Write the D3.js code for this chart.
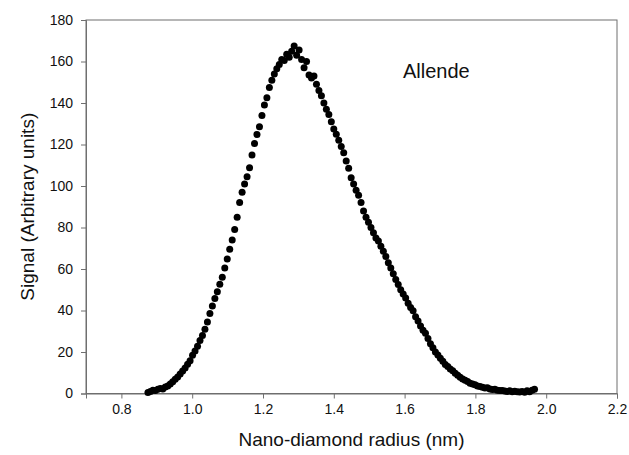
<!DOCTYPE html>
<html>
<head>
<meta charset="utf-8">
<script src="https://cdn.jsdelivr.net/npm/d3@7"></script>
<style>
  body { margin: 0; background: #fff; }
  text { font-family: "Liberation Sans", Arial, sans-serif; fill: #111; }
</style>
</head>
<body>
<svg width="629" height="455"></svg>
<script>
// radius (nm) of each sample
var radius = [
  0.875, 0.882, 0.889, 0.896, 0.903, 0.910, 0.917, 0.924, 0.931, 0.938,
  0.945, 0.952, 0.959, 0.966, 0.973, 0.980, 0.987, 0.994, 1.001, 1.008,
  1.015, 1.022, 1.029, 1.036, 1.043, 1.050, 1.057, 1.064, 1.071, 1.078,
  1.085, 1.092, 1.099, 1.106, 1.113, 1.120, 1.127, 1.134, 1.141, 1.148,
  1.155, 1.162, 1.169, 1.176, 1.183, 1.190, 1.197, 1.204, 1.211, 1.218,
  1.225, 1.232, 1.239, 1.246, 1.253, 1.260, 1.267, 1.274, 1.281, 1.288,
  1.295, 1.302, 1.309, 1.316, 1.323, 1.330, 1.337, 1.344, 1.351, 1.358,
  1.365, 1.372, 1.379, 1.386, 1.393, 1.400, 1.407, 1.414, 1.421, 1.428,
  1.435, 1.442, 1.449, 1.456, 1.463, 1.470, 1.477, 1.484, 1.491, 1.498,
  1.505, 1.512, 1.519, 1.526, 1.533, 1.540, 1.547, 1.554, 1.561, 1.568,
  1.575, 1.582, 1.589, 1.596, 1.603, 1.610, 1.617, 1.624, 1.631, 1.638,
  1.645, 1.652, 1.659, 1.666, 1.673, 1.680, 1.687, 1.694, 1.701, 1.708,
  1.715, 1.722, 1.729, 1.736, 1.743, 1.750, 1.757, 1.764, 1.771, 1.778,
  1.785, 1.792, 1.799, 1.806, 1.813, 1.820, 1.827, 1.834, 1.841, 1.848,
  1.855, 1.862, 1.869, 1.876, 1.883, 1.890, 1.897, 1.904, 1.911, 1.918,
  1.925, 1.932, 1.939, 1.946, 1.953, 1.960, 1.967
]

// signal (arbitrary units)
var signal = [
  0.5, 1.0, 1.6, 1.4, 2.0, 2.4, 2.2, 3.1, 3.6, 4.6,
  5.7, 6.9, 8.0, 9.4, 10.9, 12.3, 14.1, 15.8, 18.4, 20.5,
  22.8, 25.6, 28.0, 31.0, 34.5, 38.6, 42.2, 45.8, 49.0, 52.6,
  56.0, 60.5, 64.8, 69.5, 74.0, 79.0, 85.0, 92.0, 97.0, 101.0,
  104.5, 108.8, 115.0, 120.5, 124.8, 128.5, 134.0, 139.0, 142.5, 147.5,
  151.0, 154.0, 156.5, 158.5, 161.0, 160.5, 163.5, 162.0, 165.0, 167.5,
  163.0, 165.5, 161.0, 157.0, 160.0, 153.5, 152.0, 153.0, 149.0, 146.0,
  143.5, 140.0, 137.0, 134.5, 131.0, 127.5, 125.0, 122.0, 119.0, 116.0,
  112.0, 108.5, 104.0, 101.0, 98.0, 95.5, 92.0, 88.0, 85.0, 82.5,
  80.0, 77.5, 75.0, 73.5, 71.0, 68.5, 66.0, 63.0, 60.5, 57.7,
  55.0, 52.5, 50.0, 48.0, 46.0, 43.5, 41.5, 39.9, 37.0, 35.0,
  32.5, 30.5, 29.0, 26.5, 24.0, 22.0, 20.0, 18.5, 17.0, 15.5,
  14.0, 13.0, 11.8, 11.0, 9.8, 8.8, 7.8, 7.0, 6.4, 5.8,
  5.0, 4.6, 4.2, 3.6, 3.4, 3.0, 2.6, 2.8, 2.2, 1.9,
  2.1, 1.6, 1.4, 1.5, 1.2, 1.0, 1.3, 0.8, 1.1, 0.9,
  0.7, 1.0, 0.6, 1.3, 0.9, 1.6, 2.0
]

var x_ticks = [0.8, 1.0, 1.2, 1.4, 1.6, 1.8, 2.0, 2.2]
var y_ticks = [0, 20, 40, 60, 80, 100, 120, 140, 160, 180]

var margin = { left: 86, right: 12, top: 20, bottom: 62 }
var width = 629, height = 455
var axis_color = '#6f6f6f'

var svg = d3.select('svg')

var x = d3.scaleLinear().domain([0.7, 2.2]).range([margin.left, width - margin.right])
var y = d3.scaleLinear().domain([0, 180]).range([height - margin.bottom + 0.5, margin.top])

// frame
svg.append('rect')
  .attr('x', x(0.7)).attr('y', y(180))
  .attr('width', x(2.2) - x(0.7)).attr('height', y(0) - y(180))
  .attr('fill', 'none').attr('stroke', axis_color).attr('stroke-width', 1)

var x_axis = svg.append('g')
  .attr('transform', 'translate(0,' + y(0) + ')')
  .call(d3.axisBottom(x).tickValues(x_ticks).tickFormat(d3.format('.1f')).tickSizeOuter(0).tickSize(5).tickPadding(6))

var y_axis = svg.append('g')
  .attr('transform', 'translate(' + x(0.7) + ',0)')
  .call(d3.axisLeft(y).tickValues(y_ticks).tickSizeOuter(0).tickSize(5).tickPadding(8))

;[x_axis, y_axis].forEach((g) => {
  g.select('.domain').attr('stroke', axis_color)
  g.selectAll('.tick line').attr('stroke', axis_color)
  g.selectAll('.tick text').attr('font-size', 14).attr('fill', '#111')
    .attr('font-family', '"Liberation Sans", Arial, sans-serif')
})

// points
svg.append('g').selectAll('circle')
  .data(radius.map((r, i) => ({ r: r, s: signal[i] })))
  .enter()
    .append('circle')
    .attr('cx', (d) => x(d.r))
    .attr('cy', (d) => y(d.s))
    .attr('r', 3.5)
    .attr('fill', '#000')

// labels
svg.append('text')
  .attr('x', (x(0.7) + x(2.2)) / 2).attr('y', 446)
  .attr('text-anchor', 'middle').attr('font-size', 19)
  .text('Nano-diamond radius (nm)')

svg.append('text')
  .attr('transform', 'translate(34,' + (y(0) + y(180)) / 2 + ') rotate(-90)')
  .attr('text-anchor', 'middle').attr('font-size', 19)
  .text('Signal (Arbitrary units)')

svg.append('text')
  .attr('x', 403).attr('y', 78)
  .attr('font-size', 20)
  .text('Allende')
</script>
</body>
</html>
